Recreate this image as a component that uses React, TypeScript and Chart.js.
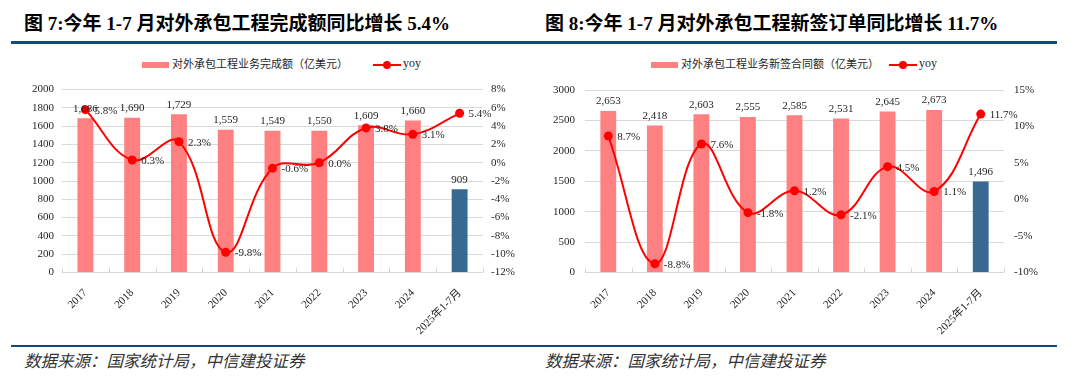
import React, { useEffect, useRef } from 'react';
import { Chart, registerables } from 'chart.js';

Chart.register(...registerables);

// ---------- data ----------
const categories = ['2017', '2018', '2019', '2020', '2021', '2022', '2023', '2024', '2025年1-7月'];
const completedValues = [1686, 1690, 1729, 1559, 1549, 1550, 1609, 1660, 909];
const completedYoy = [5.8, 0.3, 2.3, -9.8, -0.6, 0.0, 3.8, 3.1, 5.4];
const signedValues = [2653, 2418, 2603, 2555, 2585, 2531, 2645, 2673, 1496];
const signedYoy = [8.7, -8.8, 7.6, -1.8, 1.2, -2.1, 4.5, 1.1, 11.7];

const title1 = '图 7:今年 1-7 月对外承包工程完成额同比增长 5.4%';
const title2 = '图 8:今年 1-7 月对外承包工程新签订单同比增长 11.7%';
const legendBar1 = '对外承包工程业务完成额（亿美元）';
const legendBar2 = '对外承包工程业务新签合同额（亿美元）';
const legendLine = 'yoy';
const sourceText = '数据来源：国家统计局，中信建投证券';

const axis1Left = { min: 0, max: 2000, step: 200 };
const axis1Right = { min: -12, max: 8, step: 2 };
const axis2Left = { min: 0, max: 3000, step: 500 };
const axis2Right = { min: -10, max: 15, step: 5 };

// ---------- styles ----------
const PINK = '#FF8080';
const BLUE = '#376993';
const RED = '#FF0000';
const GRID = '#D9D9D9';
const RULE = '#0F4C7D';
const TEXT = '#1f1f1f';
const FONT = '"Liberation Serif", "Noto Sans CJK SC", serif';

const labelPlugin = {
  id: 'valueLabels',
  afterDatasetsDraw(chart: any) {
    const ctx = chart.ctx;
    ctx.save();
    ctx.font = `11px ${FONT}`;
    ctx.fillStyle = TEXT;
    chart.data.datasets.forEach((ds: any, di: number) => {
      const meta = chart.getDatasetMeta(di);
      meta.data.forEach((el: any, i: number) => {
        const v = ds.data[i];
        if (ds.type === 'bar') {
          ctx.textAlign = 'center';
          ctx.textBaseline = 'bottom';
          ctx.fillText(Number(v).toLocaleString('en-US'), el.x, el.y - 4);
        } else {
          ctx.textAlign = 'left';
          ctx.textBaseline = 'middle';
          ctx.fillText(Number(v).toFixed(1) + '%', el.x + 9, el.y + 1);
        }
      });
    });
    ctx.restore();
  },
};

const innerTicksPlugin = {
  id: 'innerTicks',
  beforeDatasetsDraw(chart: any) {
    const x = chart.scales.x;
    const ctx = chart.ctx;
    const n = chart.data.labels.length;
    const bottom = chart.chartArea.bottom;
    ctx.save();
    ctx.strokeStyle = GRID;
    ctx.lineWidth = 1;
    for (let i = 0; i <= n; i++) {
      const px = Math.round(x.getPixelForValue(i - 0.5)) + 0.5;
      ctx.beginPath();
      ctx.moveTo(px, bottom);
      ctx.lineTo(px, bottom - 5);
      ctx.stroke();
    }
    ctx.restore();
  },
};

type PanelProps = {
  values: number[];
  yoy: number[];
  barLabel: string;
  left: { min: number; max: number; step: number };
  right: { min: number; max: number; step: number };
  leftW: number;
  rightW: number;
  topPad: number;
  bottomH: number;
  tickPad: number;
};

function ChartPanel(p: PanelProps) {
  const ref = useRef<HTMLCanvasElement | null>(null);
  useEffect(() => {
    if (!ref.current) return;
    const tickFont = { family: FONT, size: 11 };
    const chart = new Chart(ref.current, {
      type: 'bar',
      data: {
        labels: categories,
        datasets: [
          {
            type: 'line',
            label: legendLine,
            data: p.yoy,
            yAxisID: 'y2',
            borderColor: RED,
            backgroundColor: RED,
            borderWidth: 2,
            pointRadius: 4.5,
            pointHoverRadius: 4.5,
            pointBorderWidth: 0,
            tension: 0.4,
            order: 0,
            clip: false,
          } as any,
          {
            type: 'bar',
            label: p.barLabel,
            data: p.values,
            yAxisID: 'y',
            backgroundColor: p.values.map((_, i) => (i === p.values.length - 1 ? BLUE : PINK)),
            barPercentage: 0.34,
            categoryPercentage: 1,
            order: 1,
          } as any,
        ],
      },
      options: {
        responsive: false,
        maintainAspectRatio: false,
        animation: false,
        layout: { padding: { top: p.topPad, left: 0, right: 0, bottom: 0 } },
        plugins: { legend: { display: false }, tooltip: { enabled: false } },
        scales: {
          x: {
            grid: { display: false },
            border: { display: false },
            ticks: { minRotation: 45, maxRotation: 45, autoSkip: false, font: tickFont, color: TEXT, padding: 6 },
            afterFit: (s: any) => { s.height = p.bottomH; },
          },
          y: {
            position: 'left',
            min: p.left.min,
            max: p.left.max,
            ticks: {
              stepSize: p.left.step,
              font: tickFont,
              color: TEXT,
              padding: p.tickPad,
              callback: (v: any) => String(v),
            },
            grid: { color: GRID, drawTicks: false, lineWidth: 1 },
            border: { display: false },
            afterFit: (s: any) => { s.width = p.leftW; },
          },
          y2: {
            position: 'right',
            min: p.right.min,
            max: p.right.max,
            ticks: {
              stepSize: p.right.step,
              font: tickFont,
              color: TEXT,
              padding: p.tickPad,
              callback: (v: any) => `${v}%`,
            },
            grid: { display: false, drawTicks: false },
            border: { display: false },
            afterFit: (s: any) => { s.width = p.rightW; },
          },
        },
      } as any,
      plugins: [labelPlugin, innerTicksPlugin],
    });
    return () => chart.destroy();
  }, []);
  return <canvas ref={ref} width={540} height={275} style={{ display: 'block', width: 540, height: 275 }} />;
}

function Legend({ x1, text, x2 }: { x1: number; text: string; x2: number }) {
  return (
    <>
      <div style={{ position: 'absolute', left: x1, top: 62, width: 27, height: 6, background: PINK }} />
      <div style={{ position: 'absolute', left: x1 + 30, top: 57, fontSize: 11, lineHeight: '15px', fontFamily: FONT, color: TEXT, whiteSpace: 'nowrap' }}>{text}</div>
      <div style={{ position: 'absolute', left: x2, top: 64, width: 28, height: 2, background: RED }} />
      <div style={{ position: 'absolute', left: x2 + 10, top: 61, width: 8, height: 8, borderRadius: 4, background: RED }} />
      <div style={{ position: 'absolute', left: x2 + 30, top: 56, fontSize: 12, lineHeight: '15px', fontFamily: FONT, color: TEXT }}>{legendLine}</div>
    </>
  );
}

export default function App() {
  const titleStyle: React.CSSProperties = {
    position: 'absolute', top: 13, fontSize: 19, lineHeight: '22px', fontWeight: 700,
    fontFamily: FONT, color: '#000', whiteSpace: 'nowrap',
  };
  const srcStyle: React.CSSProperties = {
    position: 'absolute', top: 352, fontSize: 16.5, lineHeight: '20px', fontStyle: 'italic',
    fontFamily: FONT, color: '#333', whiteSpace: 'nowrap',
  };
  return (
    <div style={{ position: 'absolute', left: 0, top: 0, width: 1080, height: 383, background: '#fff', overflow: 'hidden' }}>
      <div style={{ ...titleStyle, left: 24 }}>{title1}</div>
      <div style={{ ...titleStyle, left: 545 }}>{title2}</div>
      <div style={{ position: 'absolute', left: 11, top: 41, width: 1046, height: 3, background: RULE }} />
      <Legend x1={142} text={legendBar1} x2={373} />
      <Legend x1={651} text={legendBar2} x2={889} />
      <div style={{ position: 'absolute', left: 0, top: 70 }}>
        <ChartPanel values={completedValues} yoy={completedYoy} barLabel={legendBar1}
          left={axis1Left} right={axis1Right} leftW={62} rightW={57} topPad={19.5} bottomH={72.5} tickPad={8} />
      </div>
      <div style={{ position: 'absolute', left: 540, top: 70 }}>
        <ChartPanel values={signedValues} yoy={signedYoy} barLabel={legendBar2}
          left={axis2Left} right={axis2Right} leftW={45} rightW={76} topPad={20} bottomH={72.5} tickPad={10} />
      </div>
      <div style={{ position: 'absolute', left: 11, top: 345, width: 1046, height: 2, background: RULE }} />
      <div style={{ ...srcStyle, left: 24 }}>{sourceText}</div>
      <div style={{ ...srcStyle, left: 545 }}>{sourceText}</div>
    </div>
  );
}
